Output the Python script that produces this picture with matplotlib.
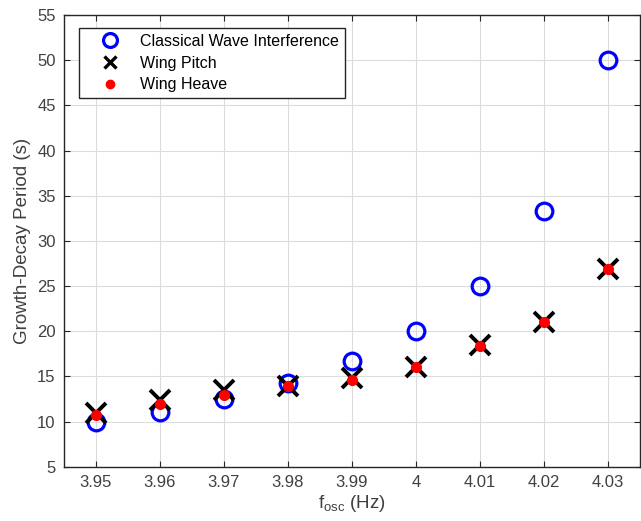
import matplotlib
matplotlib.use("Agg")
import matplotlib.pyplot as plt

plt.rcParams['font.family'] = ['Liberation Sans', 'DejaVu Sans']

# oscillation frequencies and growth-decay periods
f_osc = [3.95, 3.96, 3.97, 3.98, 3.99, 4.00, 4.01, 4.02, 4.03]
classical = [10.0, 11.1, 12.5, 14.3, 16.7, 20.0, 25.0, 33.3, 50.0]
wing_pitch = [11.0, 12.4, 13.5, 13.9, 14.8, 16.1, 18.5, 21.0, 26.9]
wing_heave = [10.7, 11.9, 13.0, 14.0, 14.6, 16.1, 18.4, 21.0, 26.9]

x_ticks = [3.95, 3.96, 3.97, 3.98, 3.99, 4.00, 4.01, 4.02, 4.03]
x_ticklabels = ['3.95', '3.96', '3.97', '3.98', '3.99', '4', '4.01', '4.02', '4.03']
y_ticks = [5, 10, 15, 20, 25, 30, 35, 40, 45, 50, 55]

fig = plt.figure(figsize=(6.41, 5.21), dpi=100)
ax = fig.add_axes([0.0998, 0.104, 0.8982, 0.867])

ax.plot(f_osc, classical, 'o', ms=12, mfc='none', mec='#0000ff', mew=2.3,
        label='Classical Wave Interference')
ax.plot(f_osc, wing_pitch, 'x', ms=14, mec='black', mew=2.8, label='Wing Pitch')
ax.plot(f_osc, wing_heave, 'o', ms=7, mfc='red', mec='red', label='Wing Heave')

ax.set_xlim(3.945, 4.035)
ax.set_ylim(5, 55)
ax.set_xticks(x_ticks)
ax.set_xticklabels(x_ticklabels)
ax.set_yticks(y_ticks)

ax.grid(True, color='#dcdcdc', lw=0.8)
ax.set_axisbelow(True)
ax.tick_params(direction='in', top=True, right=True, length=4, width=0.8,
               colors='#262626', labelcolor='#404040', labelsize=12, pad=6)
for s in ax.spines.values():
    s.set_color('#262626')
    s.set_linewidth(1.0)

ax.set_xlabel('f$_{\\mathregular{osc}}$ (Hz)', fontsize=13.5, color='#404040', labelpad=2)
ax.set_ylabel('Growth-Decay Period (s)', fontsize=13.5, color='#404040', labelpad=4)

leg = ax.legend(loc='upper left', bbox_to_anchor=(0.026, 0.971), borderaxespad=0,
                fontsize=11.5, frameon=True, fancybox=False, edgecolor='#262626',
                framealpha=1, borderpad=0.35, labelspacing=0.42,
                handletextpad=0.3, handlelength=3.2)
leg.get_frame().set_linewidth(1.0)
# smaller legend markers
for h, ms in zip(leg.legend_handles, [10, 9, 6]):
    h.set_markersize(ms)
leg.legend_handles[1].set_markeredgewidth(2.4)

fig.savefig('out.png', dpi=100)
